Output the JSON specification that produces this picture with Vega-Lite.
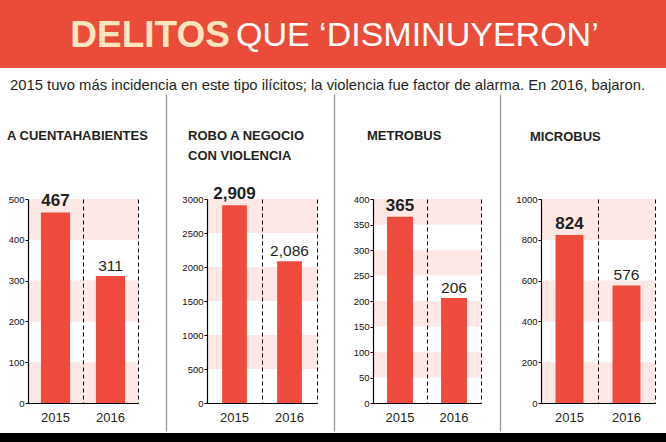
{
  "$schema": "https://vega.github.io/schema/vega-lite/v6.json",
  "background": "white",
  "padding": 0,
  "spacing": 0,
  "config": {"view": {"stroke": null}, "axis": {"labelOverlap": false, "labelBound": false}},
  "datasets": {
    "bars": [
      {"panel": "A CUENTAHABIENTES", "year": "2015", "value": 467},
      {"panel": "A CUENTAHABIENTES", "year": "2016", "value": 311},
      {"panel": "ROBO A NEGOCIO CON VIOLENCIA", "year": "2015", "value": 2909},
      {"panel": "ROBO A NEGOCIO CON VIOLENCIA", "year": "2016", "value": 2086},
      {"panel": "METROBUS", "year": "2015", "value": 365},
      {"panel": "METROBUS", "year": "2016", "value": 206},
      {"panel": "MICROBUS", "year": "2015", "value": 824},
      {"panel": "MICROBUS", "year": "2016", "value": 576}
    ],
    "bands": [
      {"panel": "A CUENTAHABIENTES", "lo": 0, "hi": 100},
      {"panel": "A CUENTAHABIENTES", "lo": 200, "hi": 300},
      {"panel": "A CUENTAHABIENTES", "lo": 400, "hi": 500},
      {"panel": "ROBO A NEGOCIO CON VIOLENCIA", "lo": 500, "hi": 1000},
      {"panel": "ROBO A NEGOCIO CON VIOLENCIA", "lo": 1500, "hi": 2000},
      {"panel": "ROBO A NEGOCIO CON VIOLENCIA", "lo": 2500, "hi": 3000},
      {"panel": "METROBUS", "lo": 50, "hi": 100},
      {"panel": "METROBUS", "lo": 150, "hi": 200},
      {"panel": "METROBUS", "lo": 250, "hi": 300},
      {"panel": "METROBUS", "lo": 350, "hi": 400},
      {"panel": "MICROBUS", "lo": 0, "hi": 200},
      {"panel": "MICROBUS", "lo": 400, "hi": 600},
      {"panel": "MICROBUS", "lo": 800, "hi": 1000}
    ]
  },
  "vconcat": [
    {
      "width": 666,
      "height": 68,
      "view": {"fill": "#eb4c3a", "stroke": null},
      "title": {"text": "2015 tuvo más incidencia en este tipo ilícitos; la violencia fue factor de alarma. En 2016, bajaron.", "orient": "bottom", "anchor": "start", "frame": "group", "dx": 10, "offset": 10, "font": "Liberation Sans, sans-serif", "fontSize": 14.8, "fontWeight": "normal", "color": "#231f20"},
      "data": {"values": [{"a": "DELITOS", "b": "QUE ‘DISMINUYERON’"}]},
      "layer": [
        {"mark": {"type": "text", "align": "right", "baseline": "middle", "dx": -103, "dy": 2, "font": "Liberation Sans, sans-serif", "fontSize": 37, "fontWeight": "bold", "color": "#fce4bf"}, "encoding": {"text": {"field": "a", "type": "nominal"}}},
        {"mark": {"type": "text", "align": "left", "baseline": "middle", "dx": -97, "dy": 2, "font": "Liberation Sans, sans-serif", "fontSize": 34, "fontWeight": "normal", "color": "#ffffff"}, "encoding": {"text": {"field": "b", "type": "nominal"}}}
      ]
    },
    {
      "spacing": 0,
      "hconcat": [
        {"width": 1, "height": 1, "data": {"values": [{}]}, "mark": {"type": "text", "text": ""}, "encoding": {}},
        {
          "spacing": 14,
          "hconcat": [
            {
              "width": 110, "height": 204,
              "title": {"text": "A CUENTAHABIENTES", "anchor": "start", "frame": "group", "dx": -21, "offset": -50, "font": "Liberation Sans, sans-serif", "fontSize": 13, "fontWeight": "bold", "color": "#231f20"},
              "resolve": {"axis": {"x": "independent"}},
              "layer": [
                {"data": {"name": "bands"}, "transform": [{"filter": "datum.panel === 'A CUENTAHABIENTES'"}],
                 "mark": {"type": "rect", "color": "#fde8e5"},
                 "encoding": {"y": {"field": "lo", "type": "quantitative", "title": null, "scale": {"domain": [0, 500], "nice": false}, "axis": {"title": null, "values": [0, 100, 200, 300, 400, 500], "tickCount": 20, "format": "d", "labelOverlap": false, "grid": false, "zindex": 1, "domainColor": "#000000", "domainWidth": 1.2, "tickColor": "#000000", "tickSize": 3, "labelPadding": 1, "labelFont": "Liberation Sans, sans-serif", "labelFontSize": 9.5, "labelColor": "#111111", "minExtent": 27, "maxExtent": 27}}, "y2": {"field": "hi"}}},
                {"data": {"name": "bars"}, "transform": [{"filter": "datum.panel === 'A CUENTAHABIENTES'"}],
                 "mark": {"type": "bar", "color": "#ee4b3c", "width": {"band": 0.53}},
                 "encoding": {"x": {"field": "year", "type": "nominal", "scale": {"paddingInner": 0, "paddingOuter": 0}, "axis": {"orient": "bottom", "title": null, "zindex": 1, "domainColor": "#000000", "domainWidth": 1.2, "ticks": false, "grid": false, "labelAngle": 0, "labelPadding": 8, "labelFont": "Liberation Sans, sans-serif", "labelFontSize": 13, "labelColor": "#231f20"}}, "y": {"field": "value", "type": "quantitative", "title": null}}},
                {"data": {"name": "bars"}, "transform": [{"filter": "datum.panel === 'A CUENTAHABIENTES' && datum.year === '2015'"}],
                 "mark": {"type": "text", "baseline": "bottom", "dy": -2, "font": "Liberation Sans, sans-serif", "fontSize": 17, "fontWeight": "bold", "color": "#231f20"},
                 "encoding": {"x": {"field": "year", "type": "nominal", "axis": {"orient": "bottom", "title": null, "grid": true, "gridColor": "#000000", "gridDash": [4, 3], "gridWidth": 1, "bandPosition": 1, "labels": false, "ticks": false, "domain": false, "zindex": 1}}, "y": {"field": "value", "type": "quantitative", "title": null}, "text": {"field": "value", "type": "quantitative", "format": ",d"}}},
                {"data": {"name": "bars"}, "transform": [{"filter": "datum.panel === 'A CUENTAHABIENTES' && datum.year === '2016'"}],
                 "mark": {"type": "text", "baseline": "bottom", "dy": -2, "font": "Liberation Sans, sans-serif", "fontSize": 15.5, "fontWeight": "normal", "color": "#231f20"},
                 "encoding": {"x": {"field": "year", "type": "nominal", "axis": {"orient": "top", "title": null, "values": ["2016"], "bandPosition": 1, "tickOffset": 28, "offset": 105, "tickSize": -337, "tickColor": "#9a9a9a", "tickWidth": 1.3, "labels": false, "domain": false, "grid": false}}, "y": {"field": "value", "type": "quantitative", "title": null}, "text": {"field": "value", "type": "quantitative", "format": ",d"}}}
              ]
            },
            {
              "width": 110, "height": 204,
              "title": {"text": ["ROBO A NEGOCIO", "CON VIOLENCIA"], "lineHeight": 20, "anchor": "start", "frame": "group", "dx": -19, "offset": -70, "font": "Liberation Sans, sans-serif", "fontSize": 13, "fontWeight": "bold", "color": "#231f20"},
              "resolve": {"axis": {"x": "independent"}},
              "layer": [
                {"data": {"name": "bands"}, "transform": [{"filter": "datum.panel === 'ROBO A NEGOCIO CON VIOLENCIA'"}],
                 "mark": {"type": "rect", "color": "#fde8e5"},
                 "encoding": {"y": {"field": "lo", "type": "quantitative", "title": null, "scale": {"domain": [0, 3000], "nice": false}, "axis": {"title": null, "values": [0, 500, 1000, 1500, 2000, 2500, 3000], "tickCount": 20, "format": "d", "labelOverlap": false, "grid": false, "zindex": 1, "domainColor": "#000000", "domainWidth": 1.2, "tickColor": "#000000", "tickSize": 3, "labelPadding": 1, "labelFont": "Liberation Sans, sans-serif", "labelFontSize": 9.5, "labelColor": "#111111", "minExtent": 25, "maxExtent": 25}}, "y2": {"field": "hi"}}},
                {"data": {"name": "bars"}, "transform": [{"filter": "datum.panel === 'ROBO A NEGOCIO CON VIOLENCIA'"}],
                 "mark": {"type": "bar", "color": "#ee4b3c", "width": {"band": 0.45}},
                 "encoding": {"x": {"field": "year", "type": "nominal", "scale": {"paddingInner": 0, "paddingOuter": 0}, "axis": {"orient": "bottom", "title": null, "zindex": 1, "domainColor": "#000000", "domainWidth": 1.2, "ticks": false, "grid": false, "labelAngle": 0, "labelPadding": 8, "labelFont": "Liberation Sans, sans-serif", "labelFontSize": 13, "labelColor": "#231f20"}}, "y": {"field": "value", "type": "quantitative", "title": null}}},
                {"data": {"name": "bars"}, "transform": [{"filter": "datum.panel === 'ROBO A NEGOCIO CON VIOLENCIA' && datum.year === '2015'"}],
                 "mark": {"type": "text", "baseline": "bottom", "dy": -2, "font": "Liberation Sans, sans-serif", "fontSize": 17, "fontWeight": "bold", "color": "#231f20"},
                 "encoding": {"x": {"field": "year", "type": "nominal", "axis": {"orient": "bottom", "title": null, "grid": true, "gridColor": "#000000", "gridDash": [4, 3], "gridWidth": 1, "bandPosition": 1, "labels": false, "ticks": false, "domain": false, "zindex": 1}}, "y": {"field": "value", "type": "quantitative", "title": null}, "text": {"field": "value", "type": "quantitative", "format": ",d"}}},
                {"data": {"name": "bars"}, "transform": [{"filter": "datum.panel === 'ROBO A NEGOCIO CON VIOLENCIA' && datum.year === '2016'"}],
                 "mark": {"type": "text", "baseline": "bottom", "dy": -2, "font": "Liberation Sans, sans-serif", "fontSize": 15.5, "fontWeight": "normal", "color": "#231f20"},
                 "encoding": {"x": {"field": "year", "type": "nominal", "axis": {"orient": "top", "title": null, "values": ["2016"], "bandPosition": 1, "tickOffset": 17, "offset": 105, "tickSize": -337, "tickColor": "#9a9a9a", "tickWidth": 1.3, "labels": false, "domain": false, "grid": false}}, "y": {"field": "value", "type": "quantitative", "title": null}, "text": {"field": "value", "type": "quantitative", "format": ",d"}}}
              ]
            },
            {
              "width": 108, "height": 204,
              "title": {"text": "METROBUS", "anchor": "start", "frame": "group", "dx": -6, "offset": -50, "font": "Liberation Sans, sans-serif", "fontSize": 13, "fontWeight": "bold", "color": "#231f20"},
              "resolve": {"axis": {"x": "independent"}},
              "layer": [
                {"data": {"name": "bands"}, "transform": [{"filter": "datum.panel === 'METROBUS'"}],
                 "mark": {"type": "rect", "color": "#fde8e5"},
                 "encoding": {"y": {"field": "lo", "type": "quantitative", "title": null, "scale": {"domain": [0, 400], "nice": false}, "axis": {"title": null, "values": [0, 50, 100, 150, 200, 250, 300, 350, 400], "tickCount": 20, "format": "d", "labelOverlap": false, "grid": false, "zindex": 1, "domainColor": "#000000", "domainWidth": 1.2, "tickColor": "#000000", "tickSize": 3, "labelPadding": 1, "labelFont": "Liberation Sans, sans-serif", "labelFontSize": 9.5, "labelColor": "#111111", "minExtent": 24, "maxExtent": 24}}, "y2": {"field": "hi"}}},
                {"data": {"name": "bars"}, "transform": [{"filter": "datum.panel === 'METROBUS'"}],
                 "mark": {"type": "bar", "color": "#ee4b3c", "width": {"band": 0.48}},
                 "encoding": {"x": {"field": "year", "type": "nominal", "scale": {"paddingInner": 0, "paddingOuter": 0}, "axis": {"orient": "bottom", "title": null, "zindex": 1, "domainColor": "#000000", "domainWidth": 1.2, "ticks": false, "grid": false, "labelAngle": 0, "labelPadding": 8, "labelFont": "Liberation Sans, sans-serif", "labelFontSize": 13, "labelColor": "#231f20"}}, "y": {"field": "value", "type": "quantitative", "title": null}}},
                {"data": {"name": "bars"}, "transform": [{"filter": "datum.panel === 'METROBUS' && datum.year === '2015'"}],
                 "mark": {"type": "text", "baseline": "bottom", "dy": -2, "font": "Liberation Sans, sans-serif", "fontSize": 17, "fontWeight": "bold", "color": "#231f20"},
                 "encoding": {"x": {"field": "year", "type": "nominal", "axis": {"orient": "bottom", "title": null, "grid": true, "gridColor": "#000000", "gridDash": [4, 3], "gridWidth": 1, "bandPosition": 1, "labels": false, "ticks": false, "domain": false, "zindex": 1}}, "y": {"field": "value", "type": "quantitative", "title": null}, "text": {"field": "value", "type": "quantitative", "format": ",d"}}},
                {"data": {"name": "bars"}, "transform": [{"filter": "datum.panel === 'METROBUS' && datum.year === '2016'"}],
                 "mark": {"type": "text", "baseline": "bottom", "dy": -2, "font": "Liberation Sans, sans-serif", "fontSize": 15.5, "fontWeight": "normal", "color": "#231f20"},
                 "encoding": {"x": {"field": "year", "type": "nominal", "axis": {"orient": "top", "title": null, "values": ["2016"], "bandPosition": 1, "tickOffset": 19, "offset": 105, "tickSize": -337, "tickColor": "#9a9a9a", "tickWidth": 1.3, "labels": false, "domain": false, "grid": false}}, "y": {"field": "value", "type": "quantitative", "title": null}, "text": {"field": "value", "type": "quantitative", "format": ",d"}}}
              ]
            },
            {
              "width": 114, "height": 204,
              "title": {"text": "MICROBUS", "anchor": "start", "frame": "group", "dx": -11, "offset": -50, "font": "Liberation Sans, sans-serif", "fontSize": 13, "fontWeight": "bold", "color": "#231f20"},
              "resolve": {"axis": {"x": "independent"}},
              "layer": [
                {"data": {"name": "bands"}, "transform": [{"filter": "datum.panel === 'MICROBUS'"}],
                 "mark": {"type": "rect", "color": "#fde8e5"},
                 "encoding": {"y": {"field": "lo", "type": "quantitative", "title": null, "scale": {"domain": [0, 1000], "nice": false}, "axis": {"title": null, "values": [0, 200, 400, 600, 800, 1000], "tickCount": 20, "format": "d", "labelOverlap": false, "grid": false, "zindex": 1, "domainColor": "#000000", "domainWidth": 1.2, "tickColor": "#000000", "tickSize": 3, "labelPadding": 1, "labelFont": "Liberation Sans, sans-serif", "labelFontSize": 9.5, "labelColor": "#111111", "minExtent": 23, "maxExtent": 23}}, "y2": {"field": "hi"}}},
                {"data": {"name": "bars"}, "transform": [{"filter": "datum.panel === 'MICROBUS'"}],
                 "mark": {"type": "bar", "color": "#ee4b3c", "width": {"band": 0.49}},
                 "encoding": {"x": {"field": "year", "type": "nominal", "scale": {"paddingInner": 0, "paddingOuter": 0}, "axis": {"orient": "bottom", "title": null, "zindex": 1, "domainColor": "#000000", "domainWidth": 1.2, "ticks": false, "grid": false, "labelAngle": 0, "labelPadding": 8, "labelFont": "Liberation Sans, sans-serif", "labelFontSize": 13, "labelColor": "#231f20"}}, "y": {"field": "value", "type": "quantitative", "title": null}}},
                {"data": {"name": "bars"}, "transform": [{"filter": "datum.panel === 'MICROBUS' && datum.year === '2015'"}],
                 "mark": {"type": "text", "baseline": "bottom", "dy": -2, "font": "Liberation Sans, sans-serif", "fontSize": 17, "fontWeight": "bold", "color": "#231f20"},
                 "encoding": {"x": {"field": "year", "type": "nominal", "axis": {"orient": "bottom", "title": null, "grid": true, "gridColor": "#000000", "gridDash": [4, 3], "gridWidth": 1, "bandPosition": 1, "labels": false, "ticks": false, "domain": false, "zindex": 1}}, "y": {"field": "value", "type": "quantitative", "title": null}, "text": {"field": "value", "type": "quantitative", "format": ",d"}}},
                {"data": {"name": "bars"}, "transform": [{"filter": "datum.panel === 'MICROBUS' && datum.year === '2016'"}],
                 "mark": {"type": "text", "baseline": "bottom", "dy": -2, "font": "Liberation Sans, sans-serif", "fontSize": 15.5, "fontWeight": "normal", "color": "#231f20"},
                 "encoding": {"x": {"field": "year", "type": "nominal", "axis": {"orient": "top", "title": null, "values": ["2015"], "bandPosition": 0, "tickOffset": 0, "offset": 105, "tickSize": -337, "tickColor": "transparent", "tickWidth": 1, "labels": false, "domain": false, "grid": false}}, "y": {"field": "value", "type": "quantitative", "title": null}, "text": {"field": "value", "type": "quantitative", "format": ",d"}}}
              ]
            }
          ]
        }
      ]
    },
    {
      "width": 666,
      "height": 11,
      "view": {"fill": "#000000", "stroke": null},
      "data": {"values": [{}]},
      "mark": {"type": "text", "text": ""},
      "encoding": {}
    }
  ]
}
